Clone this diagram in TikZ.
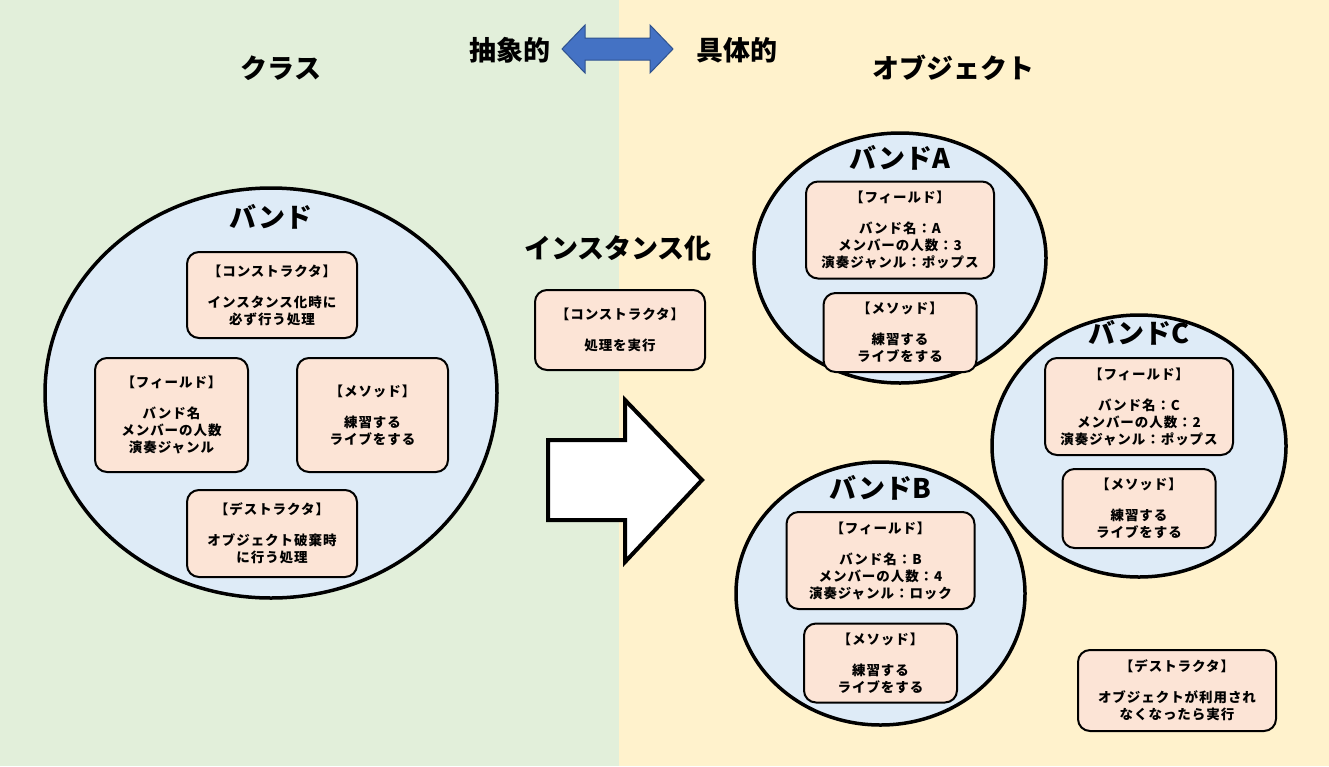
\documentclass[tikz,border=0pt]{standalone}
\usepackage{fontspec}
\setmainfont{Noto Sans CJK JP}
\usetikzlibrary{shapes.geometric}

\definecolor{classbg}{HTML}{E2EFDA}
\definecolor{objbg}{HTML}{FFF2CC}
\definecolor{bandfill}{HTML}{DEEBF7}
\definecolor{boxfill}{HTML}{FCE4D6}
\definecolor{arrowblue}{HTML}{4472C4}
\definecolor{arrowedge}{HTML}{2F528F}

\begin{document}
\begin{tikzpicture}[x=1pt, y=-1pt, font=\bfseries]
			\tikzstyle{band}    = [ellipse, draw=black, line width=3.5pt, fill=bandfill, inner sep=0pt]
			\tikzstyle{member}  = [rectangle, rounded corners=12pt, draw=black, line width=2pt, fill=boxfill, align=center, inner sep=0pt, font=\bfseries\addfontfeatures{LetterSpace=7}\fontsize{13.5}{17}\selectfont]
			\tikzstyle{heading} = [font=\bfseries\fontsize{27}{30}\selectfont, inner sep=0pt]

			\useasboundingbox (0,0) rectangle (1329,766);
			\fill[classbg] (0,0) rectangle (619,766);
			\fill[objbg] (619,0) rectangle (1329,766);

			% headings
			\node[heading] (abstract) at (510,50) {抽象的};
			\node[heading] (concrete) at (737,50) {具体的};
			\node[heading] (classhd)  at (281,68) {クラス};
			\node[heading] (objhd)    at (953,68) {オブジェクト};
			\node[heading] (insthd)   at (618,248) {インスタンス化};

			\draw[arrowedge, fill=arrowblue, line width=1pt] (562,49) -- (585,25) -- (585,38) -- (650,38) -- (650,25) -- (673,49)
				-- (650,73) -- (650,60) -- (585,60) -- (585,73) -- cycle;

			% class
			\node[band, minimum width=452pt, minimum height=410pt] (band) at (271,393) {};
			\node[heading] (bandhd) at (271,217) {バンド};
			\node[member, minimum width=170pt, minimum height=86pt] (ctor) at (272,295)
				{【コンストラクタ】\\[14pt] インスタンス化時に\\ 必ず行う処理};
			\node[member, minimum width=153pt, minimum height=114pt] (field) at (171.5,415)
				{【フィールド】\\[14pt] バンド名\\ メンバーの人数\\ 演奏ジャンル};
			\node[member, minimum width=151pt, minimum height=114pt] (method) at (372.5,415)
				{【メソッド】\\[14pt] 練習する\\ ライブをする};
			\node[member, minimum width=170pt, minimum height=87pt] (dtor) at (272,533.5)
				{【デストラクタ】\\[14pt] オブジェクト破棄時\\ に行う処理};

			% instantiation
			\node[member, minimum width=170pt, minimum height=80pt] (ctorrun) at (620,330)
				{【コンストラクタ】\\[14pt] 処理を実行};
			\draw[black, fill=white, line width=4pt, line join=miter] (548,440) -- (625,440) -- (625,400) -- (702,480)
				-- (625,562) -- (625,520) -- (548,520) -- cycle;

			% objects
			\foreach \nm/\ex/\ey/\ew/\eh/\ty/\fy/\my/\num/\genre in {A/900/258/292/250/158/230/332.5/3/ポップス,
				C/1139/446/294/262/333/406.5/508.5/2/ポップス, B/880.5/593.5/289/263/488/560.5/663/4/ロック}
			{
				\node[band, minimum width=\ew pt, minimum height=\eh pt] (band\nm) at (\ex,\ey) {};
				\node[heading] (bandhd\nm) at (\ex,\ty) {バンド\nm};
				\node[member, minimum width=188pt, minimum height=97pt] (field\nm) at (\ex,\fy)
					{【フィールド】\\[14pt] バンド名：\nm\\ メンバーの人数：\num\\ 演奏ジャンル：\genre};
				\node[member, minimum width=153pt, minimum height=79pt] (method\nm) at (\ex,\my)
					{【メソッド】\\[14pt] 練習する\\ ライブをする};
			}

			\node[member, minimum width=198pt, minimum height=81pt] (dtorrun) at (1177,690.5)
				{【デストラクタ】\\[14pt] オブジェクトが利用され\\ なくなったら実行};

		\end{tikzpicture}
\end{document}
